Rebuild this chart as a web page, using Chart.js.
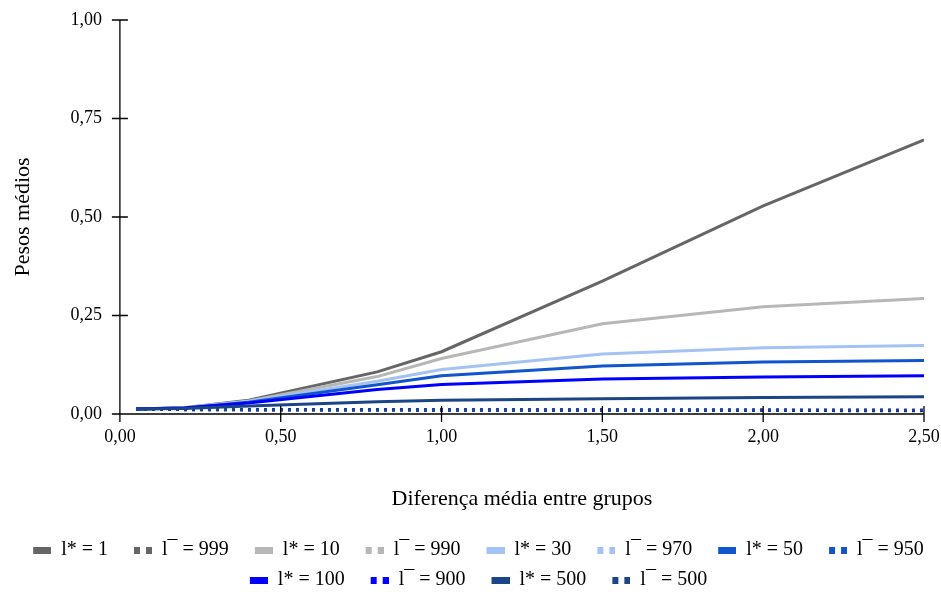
<!DOCTYPE html>
<html>
<head>
<meta charset="utf-8">
<script src="https://cdn.jsdelivr.net/npm/chart.js@4"></script>
<style>
  html, body { margin: 0; padding: 0; background: #fff; }
  #wrap { width: 941px; height: 592px; }
</style>
</head>
<body>
<div id="wrap"><canvas id="chart"></canvas></div>
<script>
// x values (diferença média entre grupos)
const xValues = [0.05, 0.2, 0.4, 0.8, 1.0, 1.5, 2.0, 2.5];

// solid series (l*)
const lStar1 = [0.013, 0.016, 0.035, 0.107, 0.158, 0.337, 0.528, 0.696];
const lStar10 = [0.013, 0.016, 0.033, 0.095, 0.141, 0.229, 0.272, 0.293];
const lStar30 = [0.013, 0.016, 0.032, 0.083, 0.113, 0.152, 0.168, 0.174];
const lStar50 = [0.013, 0.015, 0.030, 0.074, 0.097, 0.122, 0.132, 0.136];
const lStar100 = [0.013, 0.015, 0.028, 0.062, 0.075, 0.089, 0.094, 0.097];
const lStar500 = [0.013, 0.014, 0.020, 0.031, 0.035, 0.039, 0.042, 0.044];

// dotted series (l¯)
const lBar999 = [0.012, 0.011, 0.011, 0.010, 0.010, 0.009, 0.009, 0.008];
const lBar990 = [0.012, 0.011, 0.011, 0.010, 0.010, 0.009, 0.009, 0.008];
const lBar970 = [0.012, 0.011, 0.011, 0.010, 0.010, 0.010, 0.009, 0.009];
const lBar950 = [0.012, 0.011, 0.011, 0.010, 0.010, 0.010, 0.009, 0.009];
const lBar900 = [0.012, 0.012, 0.011, 0.011, 0.010, 0.010, 0.010, 0.009];
const lBar500 = [0.012, 0.012, 0.011, 0.011, 0.011, 0.010, 0.010, 0.010];

const xTicks = [0, 0.5, 1.0, 1.5, 2.0, 2.5];
const yTicks = [0, 0.25, 0.5, 0.75, 1.0];

const seriesDefs = [
    { label: 'l* = 1', data: lStar1, color: '#666666', dotted: false },
    { label: 'l¯ = 999', data: lBar999, color: '#666666', dotted: true },
    { label: 'l* = 10', data: lStar10, color: '#b7b7b7', dotted: false },
    { label: 'l¯ = 990', data: lBar990, color: '#b7b7b7', dotted: true },
    { label: 'l* = 30', data: lStar30, color: '#a4c2f4', dotted: false },
    { label: 'l¯ = 970', data: lBar970, color: '#a4c2f4', dotted: true },
    { label: 'l* = 50', data: lStar50, color: '#1155cc', dotted: false },
    { label: 'l¯ = 950', data: lBar950, color: '#1155cc', dotted: true },
    { label: 'l* = 100', data: lStar100, color: '#0000ff', dotted: false },
    { label: 'l¯ = 900', data: lBar900, color: '#0000ff', dotted: true },
    { label: 'l* = 500', data: lStar500, color: '#1c4587', dotted: false },
    { label: 'l¯ = 500', data: lBar500, color: '#1c4587', dotted: true }
];

// legend swatch, with blank room on its left so the items spread out
const ICON_GAP = 16;
function legendIcon(color, dotted) {
    const c = document.createElement('canvas');
    c.width = 18 + ICON_GAP;
    c.height = 7;
    const g = c.getContext('2d');
    g.fillStyle = color;
    if (dotted) {
        g.fillRect(ICON_GAP, 0, 6, 7);
        g.fillRect(ICON_GAP + 12, 0, 6, 7);
    } else {
        g.fillRect(ICON_GAP, 0, 18, 7);
    }
    return c;
}

const fmt = v => v.toFixed(2).replace('.', ',');

// later series are drawn over earlier ones
const datasets = seriesDefs.map((s, i) => ({
    label: s.label,
    data: xValues.map((x, j) => ({ x: x, y: s.data[j] })),
    borderColor: s.color,
    backgroundColor: s.color,
    borderWidth: 3,
    borderDash: s.dotted ? [3, 5] : [],
    pointRadius: 0,
    pointStyle: legendIcon(s.color, s.dotted),
    order: -i,
    tension: 0
}));

// ticks that cross the axis lines
const crossTicks = {
    id: 'crossTicks',
    afterDraw(chart) {
        const ctx = chart.ctx;
        const xs = chart.scales.x;
        const ys = chart.scales.y;
        const x0 = xs.getPixelForValue(0);
        const y0 = ys.getPixelForValue(0);
        ctx.save();
        ctx.strokeStyle = '#000';
        ctx.lineWidth = 1.3;
        ctx.beginPath();
        ctx.moveTo(x0, ys.getPixelForValue(1));
        ctx.lineTo(x0, y0 + 8);
        ctx.moveTo(x0 - 8, y0);
        ctx.lineTo(xs.getPixelForValue(2.5), y0);
        xTicks.forEach(t => {
            const px = xs.getPixelForValue(t);
            ctx.moveTo(px, y0 - 8);
            ctx.lineTo(px, y0 + 8);
        });
        yTicks.forEach(t => {
            const py = ys.getPixelForValue(t);
            ctx.moveTo(x0 - 8, py);
            ctx.lineTo(x0 + 8, py);
        });
        ctx.stroke();
        ctx.restore();
    }
};

const serif = "'Liberation Serif', 'Times New Roman', serif";

new Chart(document.getElementById('chart'), {
    type: 'line',
    data: { datasets: datasets },
    plugins: [crossTicks],
    options: {
        responsive: true,
        maintainAspectRatio: false,
        animation: false,
        layout: { padding: { left: 0, right: 0, top: 20, bottom: -8 } },
        plugins: {
            tooltip: { enabled: false },
            legend: {
                position: 'bottom',
                labels: {
                    usePointStyle: true,
                    pointStyleWidth: 18 + ICON_GAP,
                    boxHeight: 7,
                    padding: 10,
                    color: '#000',
                    font: { family: serif, size: 20 },
                    sort: (a, b) => a.datasetIndex - b.datasetIndex
                }
            }
        },
        scales: {
            x: {
                type: 'linear',
                min: 0,
                max: 2.5,
                afterBuildTicks: axis => { axis.ticks = xTicks.map(v => ({ value: v })); },
                afterFit: axis => { axis.paddingLeft = 0; axis.paddingRight = 17; },
                border: { display: false },
                grid: { display: false, drawTicks: false },
                ticks: {
                    padding: 12,
                    color: '#000',
                    maxRotation: 0,
                    font: { family: serif, size: 18 },
                    callback: v => fmt(v)
                },
                title: {
                    display: true,
                    text: 'Diferença média entre grupos',
                    color: '#000',
                    font: { family: serif, size: 22 },
                    padding: { top: 26, bottom: 18 }
                }
            },
            y: {
                min: 0,
                max: 1,
                afterBuildTicks: axis => { axis.ticks = yTicks.map(v => ({ value: v })); },
                afterFit: axis => { axis.paddingTop = 0; axis.paddingBottom = 0; },
                border: { display: false },
                grid: { display: false, drawTicks: false },
                ticks: {
                    padding: 18,
                    color: '#000',
                    font: { family: serif, size: 18 },
                    callback: v => fmt(v)
                },
                title: {
                    display: true,
                    text: 'Pesos médios',
                    color: '#000',
                    font: { family: serif, size: 22 },
                    padding: { top: 10, bottom: 16 }
                }
            }
        }
    }
});
</script>
</body>
</html>
